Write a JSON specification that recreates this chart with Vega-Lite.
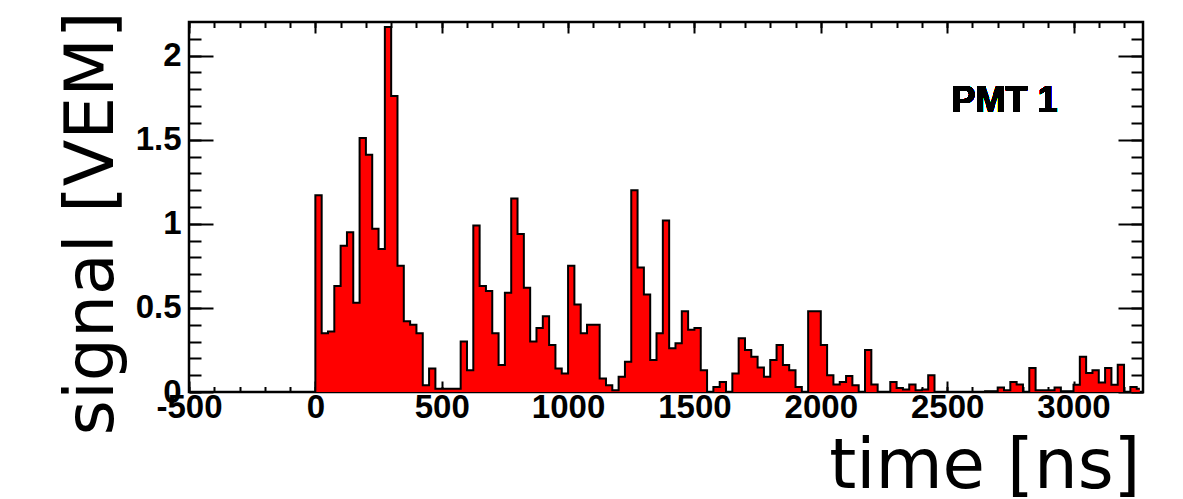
{
  "$schema": "https://vega.github.io/schema/vega-lite/v6.json",
  "width": 954,
  "height": 370,
  "autosize": {"type": "none"},
  "padding": {"left": 189, "top": 22, "right": 40, "bottom": 107},
  "background": "white",
  "config": {
    "view": {"stroke": "black", "strokeWidth": 2.5},
    "axis": {"grid": false, "domain": false, "tickColor": "black", "tickWidth": 2, "labelColor": "black", "titleColor": "black"}
  },
  "data": {"values": [
    {"t":-487.5,"v":0},{"t":-462.5,"v":0},{"t":-437.5,"v":0},{"t":-412.5,"v":0},{"t":-387.5,"v":0},
    {"t":-362.5,"v":0},{"t":-337.5,"v":0},{"t":-312.5,"v":0},{"t":-287.5,"v":0},{"t":-262.5,"v":0},
    {"t":-237.5,"v":0},{"t":-212.5,"v":0},{"t":-187.5,"v":0},{"t":-162.5,"v":0},{"t":-137.5,"v":0},
    {"t":-112.5,"v":0},{"t":-87.5,"v":0},{"t":-62.5,"v":0},{"t":-37.5,"v":0},{"t":-12.5,"v":0},
    {"t":12.5,"v":1.17},{"t":37.5,"v":0.35},{"t":62.5,"v":0.36},{"t":87.5,"v":0.63},{"t":112.5,"v":0.87},
    {"t":137.5,"v":0.95},{"t":162.5,"v":0.53},{"t":187.5,"v":1.51},{"t":212.5,"v":1.41},{"t":237.5,"v":0.97},
    {"t":262.5,"v":0.85},{"t":287.5,"v":2.17},{"t":312.5,"v":1.76},{"t":337.5,"v":0.75},{"t":362.5,"v":0.42},
    {"t":387.5,"v":0.40},{"t":412.5,"v":0.35},{"t":437.5,"v":0.04},{"t":462.5,"v":0.14},{"t":487.5,"v":0.02},
    {"t":512.5,"v":0.02},{"t":537.5,"v":0.02},{"t":562.5,"v":0.02},{"t":587.5,"v":0.30},{"t":612.5,"v":0.13},
    {"t":637.5,"v":0.99},{"t":662.5,"v":0.63},{"t":687.5,"v":0.60},{"t":712.5,"v":0.35},{"t":737.5,"v":0.16},
    {"t":762.5,"v":0.59},{"t":787.5,"v":1.15},{"t":812.5,"v":0.94},{"t":837.5,"v":0.62},{"t":862.5,"v":0.30},
    {"t":887.5,"v":0.38},{"t":912.5,"v":0.45},{"t":937.5,"v":0.28},{"t":962.5,"v":0.14},{"t":987.5,"v":0.11},
    {"t":1012.5,"v":0.75},{"t":1037.5,"v":0.52},{"t":1062.5,"v":0.35},{"t":1087.5,"v":0.40},{"t":1112.5,"v":0.40},
    {"t":1137.5,"v":0.08},{"t":1162.5,"v":0.04},{"t":1187.5,"v":0.01},{"t":1212.5,"v":0.09},{"t":1237.5,"v":0.18},
    {"t":1262.5,"v":1.20},{"t":1287.5,"v":0.74},{"t":1312.5,"v":0.58},{"t":1337.5,"v":0.19},{"t":1362.5,"v":0.35},
    {"t":1387.5,"v":1.02},{"t":1412.5,"v":0.26},{"t":1437.5,"v":0.29},{"t":1462.5,"v":0.48},{"t":1487.5,"v":0.37},
    {"t":1512.5,"v":0.38},{"t":1537.5,"v":0.13},{"t":1562.5,"v":0},{"t":1587.5,"v":0.03},{"t":1612.5,"v":0.06},
    {"t":1637.5,"v":0},{"t":1662.5,"v":0.11},{"t":1687.5,"v":0.32},{"t":1712.5,"v":0.25},{"t":1737.5,"v":0.21},
    {"t":1762.5,"v":0.145},{"t":1787.5,"v":0.09},{"t":1812.5,"v":0.19},{"t":1837.5,"v":0.28},{"t":1862.5,"v":0.16},
    {"t":1887.5,"v":0.13},{"t":1912.5,"v":0.03},{"t":1937.5,"v":0},{"t":1962.5,"v":0.48},{"t":1987.5,"v":0.48},
    {"t":2012.5,"v":0.28},{"t":2037.5,"v":0.10},{"t":2062.5,"v":0.045},{"t":2087.5,"v":0.06},{"t":2112.5,"v":0.095},
    {"t":2137.5,"v":0.04},{"t":2162.5,"v":0},{"t":2187.5,"v":0.25},{"t":2212.5,"v":0.045},{"t":2237.5,"v":0},
    {"t":2262.5,"v":0},{"t":2287.5,"v":0.06},{"t":2312.5,"v":0.024},{"t":2337.5,"v":0.015},{"t":2362.5,"v":0.045},
    {"t":2387.5,"v":0.01},{"t":2412.5,"v":0.015},{"t":2437.5,"v":0.10},{"t":2462.5,"v":0},{"t":2487.5,"v":0},
    {"t":2512.5,"v":0},{"t":2537.5,"v":0},{"t":2562.5,"v":0},{"t":2587.5,"v":0},{"t":2612.5,"v":0},
    {"t":2637.5,"v":0},{"t":2662.5,"v":0.005},{"t":2687.5,"v":0.005},{"t":2712.5,"v":0.027},{"t":2737.5,"v":0.01},
    {"t":2762.5,"v":0.06},{"t":2787.5,"v":0.045},{"t":2812.5,"v":0},{"t":2837.5,"v":0.143},{"t":2862.5,"v":0.01},
    {"t":2887.5,"v":0.01},{"t":2912.5,"v":0.01},{"t":2937.5,"v":0.027},{"t":2962.5,"v":0.005},{"t":2987.5,"v":0.005},
    {"t":3012.5,"v":0.043},{"t":3037.5,"v":0.21},{"t":3062.5,"v":0.113},{"t":3087.5,"v":0.129},{"t":3112.5,"v":0.057},
    {"t":3137.5,"v":0.143},{"t":3162.5,"v":0.043},{"t":3187.5,"v":0.162},{"t":3212.5,"v":0},{"t":3237.5,"v":0.03},
    {"t":3262.5,"v":0.02}
  ]},
  "resolve": {"axis": {"x": "independent", "y": "independent"}},
  "layer": [
    {
      "mark": {"type": "area", "interpolate": "step", "color": "#ff0000"},
      "encoding": {
        "x": {"field": "t", "type": "quantitative",
          "scale": {"domain": [-500, 3275], "nice": false, "zero": false},
          "axis": {"orient": "bottom", "values": [-500,0,500,1000,1500,2000,2500,3000], "tickSize": -11,
            "labelExpr": "'' + datum.value", "labelFont": "Liberation Sans", "labelFontWeight": "bold", "labelFontSize": 33,
            "labelPadding": 10, "labelFlush": false, "labelOverlap": false, "labelBound": false,
            "title": "time [ns]", "titleFont": "DejaVu Sans", "titleFontSize": 69, "titleFontWeight": "normal",
            "titleAnchor": "end", "titleAlign": "right", "titleBaseline": "alphabetic", "titleX": 951, "titleY": 95}},
        "y": {"field": "v", "type": "quantitative",
          "scale": {"domain": [0, 2.2], "nice": false},
          "axis": {"orient": "left", "values": [0,0.5,1,1.5,2], "tickSize": -24,
            "labelExpr": "'' + datum.value", "labelFont": "Liberation Sans", "labelFontWeight": "bold", "labelFontSize": 33,
            "labelPadding": 32, "labelFlush": false, "labelOverlap": false, "labelBound": false,
            "title": "signal [VEM]", "titleFont": "DejaVu Sans", "titleFontSize": 68, "titleFontWeight": "normal",
            "titleAngle": 270, "titleAlign": "center", "titleBaseline": "alphabetic", "titleX": -77, "titleY": 201}}
      }
    },
    {
      "mark": {"type": "line", "interpolate": "step", "color": "black", "strokeWidth": 2},
      "encoding": {
        "x": {"field": "t", "type": "quantitative",
          "axis": {"orient": "bottom", "values": [-500,-400,-300,-200,-100,0,100,200,300,400,500,600,700,800,900,1000,1100,1200,1300,1400,1500,1600,1700,1800,1900,2000,2100,2200,2300,2400,2500,2600,2700,2800,2900,3000,3100,3200],
            "tickSize": -5.5, "labels": false, "title": null}},
        "y": {"field": "v", "type": "quantitative",
          "axis": {"orient": "left", "values": [0,0.1,0.2,0.3,0.4,0.5,0.6,0.7,0.8,0.9,1,1.1,1.2,1.3,1.4,1.5,1.6,1.7,1.8,1.9,2,2.1],
            "tickSize": -12, "labels": false, "title": null}}
      }
    },
    {
      "mark": {"type": "line", "interpolate": "step", "opacity": 0},
      "encoding": {
        "x": {"field": "t", "type": "quantitative",
          "axis": {"orient": "top", "values": [-500,0,500,1000,1500,2000,2500,3000], "tickSize": -11, "labels": false, "title": null}},
        "y": {"field": "v", "type": "quantitative",
          "axis": {"orient": "right", "values": [0,0.5,1,1.5,2], "tickSize": -25, "labels": false, "title": null}}
      }
    },
    {
      "mark": {"type": "line", "interpolate": "step", "opacity": 0},
      "encoding": {
        "x": {"field": "t", "type": "quantitative",
          "axis": {"orient": "top", "values": [-500,-400,-300,-200,-100,0,100,200,300,400,500,600,700,800,900,1000,1100,1200,1300,1400,1500,1600,1700,1800,1900,2000,2100,2200,2300,2400,2500,2600,2700,2800,2900,3000,3100,3200],
            "tickSize": -5.5, "labels": false, "title": null}},
        "y": {"field": "v", "type": "quantitative",
          "axis": {"orient": "right", "values": [0,0.1,0.2,0.3,0.4,0.5,0.6,0.7,0.8,0.9,1,1.1,1.2,1.3,1.4,1.5,1.6,1.7,1.8,1.9,2,2.1],
            "tickSize": -12, "labels": false, "title": null}}
      }
    },
    {
      "mark": {"type": "text", "text": "PMT 1", "font": "Liberation Sans", "fontWeight": "bold", "fontSize": 36, "align": "left", "baseline": "middle", "color": "black"},
      "encoding": {
        "x": {"datum": 2517, "type": "quantitative", "axis": null},
        "y": {"datum": 1.73, "type": "quantitative", "axis": null}
      }
    }
  ]
}
